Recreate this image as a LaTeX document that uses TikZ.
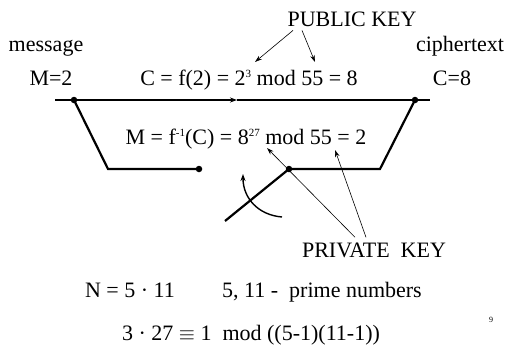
\documentclass[tikz,border=0pt]{standalone}
\usepackage{fontspec}
\setmainfont{Liberation Serif}
\usepackage{tikz}
\usetikzlibrary{arrows.meta}
\newcommand{\supx}[1]{\raisebox{0.78ex}{\fontsize{11}{12}\selectfont #1}}

\begin{document}
\begin{tikzpicture}[x=1pt, y=-1pt,
  every node/.style={font=\fontsize{22}{25}\selectfont, inner sep=0pt},
  lbl/.style={anchor=base},
  wire/.style={line width=2.2pt},
  dot/.style={circle, fill, minimum size=6.5pt, inner sep=0pt},
  keyarrow/.style={-{Stealth[length=7pt,width=4.5pt]}, line width=0.6pt}
]
  \useasboundingbox (0,0) rectangle (506,356);

  \node[lbl] (pubkey) at (352,26) {PUBLIC KEY};
  \node[lbl] (msg) at (46,51) {message};
  \node[lbl] (ctext) at (460,51) {ciphertext};
  \node[lbl] (mval) at (51,85) {M=2};
  \node[lbl] (encf) at (249,85) {C = f(2) = 2\supx{3} mod 55 = 8};
  \node[lbl] (cval) at (452,85) {C=8};
  \node[lbl] (decf) at (246,144) {M = f\supx{-1}(C) = 8\supx{27} mod 55 = 2};
  \node[lbl] (privkey) at (374,257) {PRIVATE\ \ KEY};

  \node[dot] (din) at (74,100) {};
  \node[dot] (dout) at (415,100) {};
  \node[dot] (dopen) at (199,169) {};
  \node[dot] (dpivot) at (289,169) {};
  \coordinate (lstart) at (55,100);
  \coordinate (mid) at (237,100);
  \coordinate (rend) at (430,100);
  \coordinate (lcorner) at (108,169);
  \coordinate (rcorner) at (380,169);
  \coordinate (swend) at (225,221);
  \coordinate (turnstart) at (282,217);
  \coordinate (turnend) at (243,174);
  \coordinate (pkto1) at (255,62);
  \coordinate (pkto2) at (315,62);
  \coordinate (skto1) at (267,148);
  \coordinate (skto2) at (335,150);

  \draw[wire, -{Stealth[length=7pt,width=5pt]}] (lstart) -- (mid);
  \draw[wire] (mid) -- (rend);
  \draw[wire] (din.center) -- (lcorner) -- (dopen.center);
  \draw[wire] (dout.center) -- (rcorner) -- (dpivot.center);
  \draw[wire] (dpivot.center) -- (swend);
  \draw[line width=1.4pt, -{Stealth[length=7pt,width=5pt]}]
    (turnstart) .. controls (258,215) and (243,198) .. (turnend);

  \draw[keyarrow] ([xshift=-59pt,yshift=-4pt]pubkey.south) -- (pkto1);
  \draw[keyarrow] ([xshift=-50pt,yshift=-4pt]pubkey.south) -- (pkto2);
  \draw[keyarrow] ([xshift=-19pt,yshift=5pt]privkey.north) -- (skto1);
  \draw[keyarrow] ([xshift=-8pt,yshift=5pt]privkey.north) -- (skto2);

  \node[lbl] (nprod) at (130,297) {N = 5 · 11};
  \node[lbl] (primes) at (322,297) {5, 11 -\ \ prime numbers};
  \node[lbl] (econg) at (251,340) {3 · 27 $\equiv$ 1\ \ mod ((5-1)(11-1))};
  \node[lbl, font=\fontsize{8}{9}\selectfont] (pgnum) at (491,322) {9};
\end{tikzpicture}
\end{document}
